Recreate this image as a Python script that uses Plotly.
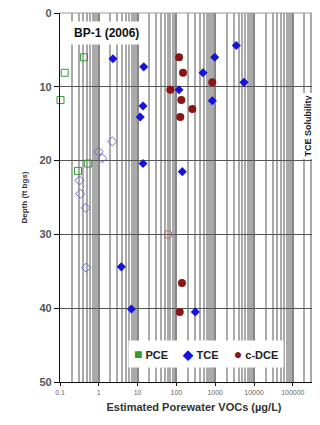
import plotly.graph_objects as go

# ---- data ----
pce_conc = [0.416, 0.132, 0.103, 0.533, 0.291]
pce_depth = [6.0, 8.1, 11.8, 20.4, 21.4]

tce_conc = [2.32, 14.4, 13.8, 11.7, 3500, 971, 485, 5520, 117, 842, 13.8, 3.8, 142, 6.9, 307]
tce_depth = [6.2, 7.3, 12.6, 14.1, 4.4, 6.0, 8.1, 9.4, 10.4, 11.9, 20.4, 34.4, 21.5, 40.1, 40.5]

tce_nd_conc = [2.23, 0.99, 1.23, 0.318, 0.333, 0.459, 0.473]
tce_nd_depth = [17.4, 18.8, 19.7, 22.7, 24.5, 26.4, 34.5]

dce_conc = [117, 148, 842, 69.7, 134, 257, 126, 139, 122]
dce_depth = [6.0, 8.1, 9.4, 10.4, 11.8, 13.0, 14.1, 36.6, 40.5]

dce_nd_conc = [60.8]
dce_nd_depth = [30.0]

tce_solubility = 7.5e5
x_ticks = [0.1, 1, 10, 100, 1000, 10000, 100000]
x_tick_text = ["0.1", "1", "10", "100", "1000", "10000", "100000"]
y_ticks = [0, 10, 20, 30, 40, 50]
legend_names = ["PCE", "TCE", "c-DCE"]

GREEN = "#2f9a2f"
BLUE = "#1414dc"
LBLUE = "#6a6ad0"
RED = "#8b1414"
LRED = "#b07070"
FONT = "Liberation Sans, Arial"

fig = go.Figure()

fig.add_trace(go.Scatter(x=pce_conc, y=pce_depth, mode="markers", showlegend=False,
                         cliponaxis=False,
                         marker=dict(symbol="square-open", size=7, color=GREEN, line=dict(width=1))))
fig.add_trace(go.Scatter(x=tce_nd_conc, y=tce_nd_depth, mode="markers", showlegend=False,
                         cliponaxis=False,
                         marker=dict(symbol="diamond-open", size=7, color=LBLUE, line=dict(width=1))))
fig.add_trace(go.Scatter(x=dce_nd_conc, y=dce_nd_depth, mode="markers", showlegend=False,
                         marker=dict(symbol="circle-open", size=8, color=LRED, line=dict(width=1))))
fig.add_trace(go.Scatter(x=tce_conc, y=tce_depth, mode="markers", showlegend=False,
                         marker=dict(symbol="diamond", size=7, color=BLUE)))
fig.add_trace(go.Scatter(x=dce_conc, y=dce_depth, mode="markers", showlegend=False,
                         marker=dict(symbol="circle", size=8, color=RED)))

fig.add_vline(x=tce_solubility, line=dict(color="#d88080", width=1, dash="dash"))

minor_vals = []
for e in range(-1, 6):
    for m in range(2, 10):
        minor_vals.append(m * 10 ** e)

fig.update_xaxes(type="log", range=[-1, -1 + 268 / 38.8],
                 tickvals=x_ticks, ticktext=x_tick_text,
                 tickfont=dict(family=FONT, size=7, color="#666"),
                 showgrid=True, gridcolor="#888888", gridwidth=2,
                 minor=dict(tickvals=minor_vals, showgrid=True, gridcolor="#aaaaaa", gridwidth=1.5,
                            ticks=""),
                 showline=True, linecolor="#111", linewidth=1.2,
                 ticks="outside", ticklen=3, tickcolor="#111",
                 zeroline=False, ticklabeloverflow="allow",
                 title=dict(text="Estimated Porewater VOCs (µg/L)", standoff=8,
                            font=dict(family=FONT, size=11, color="#333", weight="bold")))
fig.update_yaxes(range=[50, 0], tickvals=y_ticks,
                 tickfont=dict(family=FONT, size=11, color="#555", weight="bold"),
                 showgrid=True, gridcolor="#555", gridwidth=1.2,
                 showline=True, linecolor="#111", linewidth=1.2,
                 ticks="outside", ticklen=5, tickcolor="#111",
                 zeroline=False, ticklabeloverflow="allow",
                 title=dict(text="Depth (ft bgs)", standoff=10,
                            font=dict(family=FONT, size=8, color="#333", weight="bold")))

fig.add_shape(type="line", xref="paper", yref="paper", x0=0, x1=1, y0=1, y1=1,
              line=dict(color="#999", width=1))

fig.add_annotation(text="<b>BP-1 (2006)</b>", xref="paper", yref="paper",
                   x=(98.5 - 52) / 268, y=1 - (25 - 5) / 369, xanchor="center", yanchor="middle",
                   showarrow=False, bgcolor="white",
                   font=dict(family=FONT, size=12, color="#111"), borderpad=4)
fig.add_annotation(text="<b>TCE Solubility</b>", xref="paper", yref="paper",
                   x=(300 - 52) / 268, y=1 - (118.5 - 5) / 369, xanchor="center", yanchor="middle",
                   showarrow=False, bgcolor="white", textangle=-90,
                   font=dict(family=FONT, size=9, color="#222"), borderpad=2)
fig.add_annotation(text="1000000", xref="paper", yref="paper",
                   x=(309 - 52) / 268, y=0, xanchor="left", yanchor="top", yshift=-4,
                   showarrow=False, font=dict(family=FONT, size=7, color="#666"))

sp = "&nbsp;" * 5
legend_text = (f"<span style='color:{GREEN};font-size:14px'>■</span> {legend_names[0]}{sp}"
               f"<span style='color:{BLUE};font-size:13px'>◆</span> {legend_names[1]}{sp}"
               f"<span style='color:{RED};font-size:14px'>●</span> {legend_names[2]}")
fig.add_annotation(text="<b>" + legend_text + "</b>", xref="paper", yref="paper",
                   x=(198 - 52) / 268, y=1 - (346 - 5) / 369, xanchor="center", yanchor="middle",
                   showarrow=False, bgcolor="white", borderpad=5,
                   font=dict(family=FONT, size=11, color="#222"))

fig.update_layout(width=320, height=425, showlegend=False,
                  margin=dict(l=52, r=0, t=5, b=51),
                  paper_bgcolor="white", plot_bgcolor="white")

fig.write_html("out.html")
